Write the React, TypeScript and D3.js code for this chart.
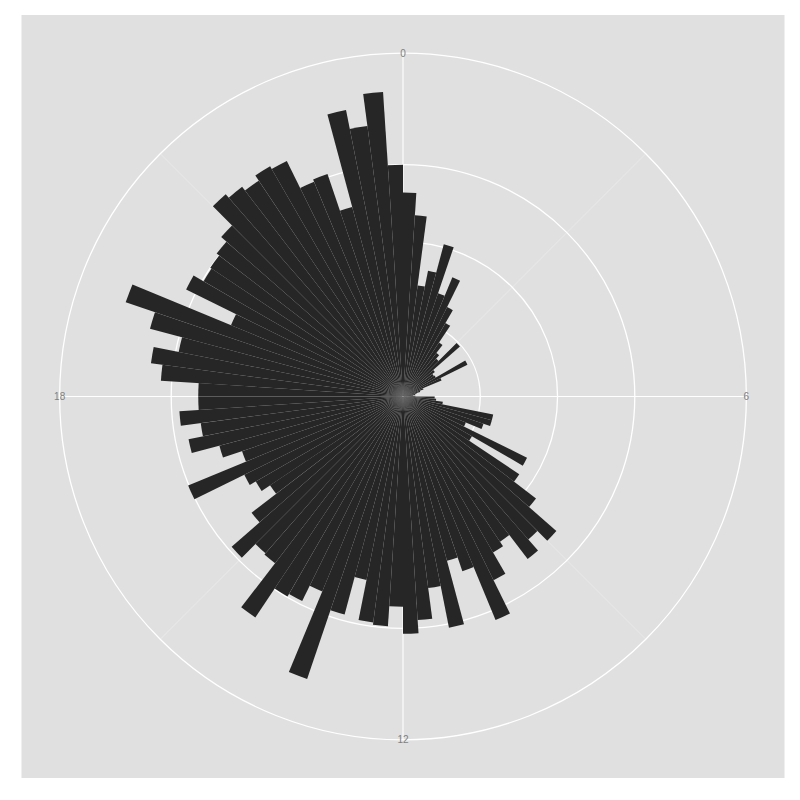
import { useEffect, useRef } from 'react'
import * as d3 from 'd3'

// counts per quarter-hour bin, split by 6-hour block
const countsNight = [26.4, 23.5, 14.5, 16.6, 20.4, 14.1, 16.7, 12.9, 11.0, 8.4, 7.1, 6.5, 9.8, 5.2, 4.8, 4.9, 9.3, 5.4, 2.8, 2.3, 1.8, 1.6, 1.3, 1.6]
const countsMorning = [4.1, 4.3, 5.2, 11.9, 11.9, 11.0, 8.8, 17.9, 10.3, 18.1, 21.7, 26.4, 24.6, 26.5, 22.6, 23.3, 26.5, 31.3, 23.9, 22.0, 30.5, 25.0, 29.0, 30.7]
const countsAfternoon = [27.2, 29.8, 29.5, 24.2, 29.2, 38.6, 27.3, 29.5, 29.9, 34.4, 27.2, 27.0, 29.5, 24.7, 20.7, 22.0, 22.9, 30.1, 22.0, 24.6, 28.3, 26.4, 29.0, 26.5]
const countsEvening = [26.5, 31.4, 32.9, 29.6, 33.9, 37.9, 24.1, 31.3, 29.8, 30.0, 30.4, 31.3, 34.8, 34.2, 33.6, 34.4, 34.0, 30.1, 30.4, 25.4, 37.8, 35.3, 39.5, 30.0]

const binWidth = 0.25 // hours
const hourBreaks = [0, 6, 12, 18]
const hourLabels = ['0', '6', '12', '18']
const hourMinorBreaks = [3, 9, 15, 21]

export default function App() {
  const svgRef = useRef<SVGSVGElement>(null)

  useEffect(() => {
    if (!svgRef.current) return
    const svg = d3.select(svgRef.current)
    svg.selectAll('*').remove()

    const panel = { x: 21.5, y: 15, size: 763 }
    const cx = panel.x + panel.size / 2
    const cy = panel.y + panel.size / 2
    const rMax = panel.size * 0.4
    const rOuter = panel.size * 0.45

    const counts = [...countsNight, ...countsMorning, ...countsAfternoon, ...countsEvening]
    const data = counts.map((value, i) => ({ start: i * binWidth, value }))

    const theta = d3.scaleLinear().domain([0, 24]).range([0, 2 * Math.PI])
    const r = d3.scaleLinear().domain([0, d3.max(counts) || 1]).range([0, rMax])

    // panel background
    svg.append('rect')
      .attr('x', panel.x)
      .attr('y', panel.y)
      .attr('width', panel.size)
      .attr('height', panel.size)
      .attr('fill', '#E0E0E0')

    const g = svg.append('g').attr('transform', `translate(${cx},${cy})`)

    // minor spokes
    g.selectAll('line.minor')
      .data(hourMinorBreaks)
      .enter()
      .append('line')
      .attr('x1', 0)
      .attr('y1', 0)
      .attr('x2', d => rOuter * Math.sin(theta(d)))
      .attr('y2', d => -rOuter * Math.cos(theta(d)))
      .attr('stroke', '#F0F0F0')
      .attr('stroke-width', 0.6)

    // radius circles (major breaks + outer ring)
    const rings = [...r.ticks(4).filter(t => t > 0).map(t => r(t)), rOuter]
    g.selectAll('circle.ring')
      .data(rings)
      .enter()
      .append('circle')
      .attr('r', d => d)
      .attr('fill', 'none')
      .attr('stroke', '#FFFFFF')
      .attr('stroke-width', 1.3)

    // major spokes
    g.selectAll('line.major')
      .data(hourBreaks)
      .enter()
      .append('line')
      .attr('x1', 0)
      .attr('y1', 0)
      .attr('x2', d => rOuter * Math.sin(theta(d)))
      .attr('y2', d => -rOuter * Math.cos(theta(d)))
      .attr('stroke', '#FFFFFF')
      .attr('stroke-width', 1.1)

    // bars
    const arc = d3.arc<{ start: number; value: number }>()
      .innerRadius(0)
      .outerRadius(d => r(d.value))
      .startAngle(d => theta(d.start))
      .endAngle(d => theta(d.start + binWidth))

    g.selectAll('path.bar')
      .data(data)
      .enter()
      .append('path')
      .attr('d', d => arc(d) || '')
      .attr('fill', '#262626')

    // hour labels on the outer ring
    g.selectAll('text.hour')
      .data(hourBreaks)
      .enter()
      .append('text')
      .attr('x', d => rOuter * Math.sin(theta(d)))
      .attr('y', d => -rOuter * Math.cos(theta(d)))
      .attr('text-anchor', 'middle')
      .attr('dominant-baseline', 'central')
      .attr('font-family', '"Liberation Sans", Arial, sans-serif')
      .attr('font-size', 10)
      .attr('fill', '#7F7F7F')
      .text((d, i) => hourLabels[i])
  }, [])

  return (
    <svg
      ref={svgRef}
      width={800}
      height={800}
      style={{ position: 'absolute', left: 0, top: 0, background: '#FFFFFF' }}
    />
  )
}
